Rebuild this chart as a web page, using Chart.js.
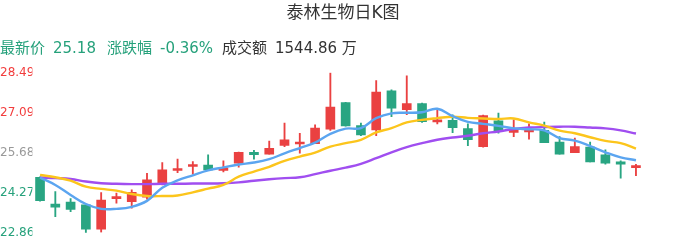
<!DOCTYPE html>
<html>
<head>
<meta charset="utf-8">
<script src="https://cdn.jsdelivr.net/npm/chart.js@4/dist/chart.umd.min.js"></script>
<style>
  html, body { margin: 0; padding: 0; background: #fff; }
  #wrap { position: relative; width: 686px; height: 241px; overflow: hidden;
          font-family: "DejaVu Sans", "Noto Sans CJK SC", sans-serif; }
  #title { position: absolute; top: 0; left: 0; width: 686px; text-align: center;
           font-size: 17px; line-height: 24px; color: #333; }
  .info { position: absolute; top: 38px; font-size: 15px; line-height: 20px; white-space: nowrap; }
  .up { color: #26a17b; }
  .dark { color: #333; }
  #chartBox { position: absolute; left: 0; top: 0; width: 686px; height: 241px; }
</style>
</head>
<body>
<div id="wrap">
  <div id="chartBox"><canvas id="kChart"></canvas></div>
  <div id="title">泰林生物日K图</div>
  <span class="info up" style="left:0px">最新价</span>
  <span class="info up" style="left:53px">25.18</span>
  <span class="info up" style="left:107px">涨跌幅</span>
  <span class="info up" style="left:160px">-0.36%</span>
  <span class="info dark" style="left:222px">成交额</span>
  <span class="info dark" style="left:275px">1544.86 万</span>
</div>
<script>
// 日K数据
const opens  = [24.81, 23.87, 23.94, 23.84, 22.98, 24.06, 23.95, 24.11, 24.58, 25.05,
                25.19, 25.24, 25.05, 25.31, 25.69, 25.62, 25.93, 25.98, 25.99, 26.50,
                27.44, 26.63, 26.48, 27.85, 27.19, 27.40, 26.76, 26.81, 26.52, 25.89,
                26.80, 26.39, 26.41, 26.46, 26.05, 25.68, 25.87, 25.60, 25.35, 25.15];
const closes = [23.99, 23.76, 23.68, 22.98, 24.01, 24.11, 24.28, 24.72, 25.07, 25.12,
                25.26, 25.07, 25.14, 25.69, 25.61, 25.83, 26.13, 26.05, 26.54, 27.28,
                26.62, 26.30, 27.81, 27.24, 27.40, 26.77, 26.83, 26.56, 26.13, 26.98,
                26.42, 26.50, 26.46, 26.03, 25.62, 25.89, 25.35, 25.31, 25.27, 25.18];
const highs  = [24.83, 24.31, 24.06, 23.86, 24.27, 24.25, 24.37, 24.95, 25.33, 25.45,
                25.36, 25.60, 25.39, 25.70, 25.76, 26.08, 26.72, 26.36, 26.66, 28.49,
                27.45, 26.72, 28.21, 27.89, 28.38, 27.42, 27.21, 27.01, 26.69, 27.00,
                27.07, 26.83, 26.69, 26.75, 26.24, 26.19, 26.05, 25.78, 25.39, 25.27];
const lows   = [23.97, 23.42, 23.60, 22.86, 22.88, 23.90, 23.72, 24.04, 24.54, 24.97,
                24.92, 25.07, 25.00, 25.17, 25.45, 25.62, 25.89, 25.66, 25.99, 26.46,
                26.61, 26.27, 26.27, 26.94, 27.01, 26.74, 26.69, 26.38, 25.92, 25.87,
                26.36, 26.24, 26.15, 26.03, 25.62, 25.68, 25.35, 25.27, 24.78, 24.87];

// 均线
const ma5  = [24.80, 24.54, 24.19, 23.87, 23.70, 23.70, 23.77, 23.98, 24.44, 24.70,
              24.88, 25.05, 25.16, 25.26, 25.33, 25.45, 25.65, 25.84, 26.03, 26.34,
              26.52, 26.54, 26.89, 27.06, 27.08, 27.10, 27.22, 26.96, 26.76, 26.69,
              26.62, 26.53, 26.50, 26.46, 26.19, 26.10, 25.91, 25.69, 25.51, 25.41];
const ma10 = [24.89, 24.81, 24.69, 24.48, 24.40, 24.34, 24.22, 24.15, 24.15, 24.17,
              24.28, 24.41, 24.54, 24.83, 25.01, 25.18, 25.39, 25.54, 25.68, 25.89,
              26.01, 26.13, 26.39, 26.54, 26.74, 26.83, 26.89, 26.94, 26.90, 26.88,
              26.86, 26.88, 26.74, 26.63, 26.45, 26.36, 26.22, 26.09, 26.01, 25.82];
const ma20 = [24.80, 24.78, 24.75, 24.66, 24.60, 24.58, 24.57, 24.57, 24.58, 24.58,
              24.59, 24.59, 24.60, 24.63, 24.69, 24.74, 24.78, 24.81, 24.92, 25.04,
              25.15, 25.28, 25.48, 25.69, 25.87, 26.01, 26.13, 26.21, 26.27, 26.36,
              26.42, 26.51, 26.56, 26.58, 26.59, 26.59, 26.56, 26.53, 26.46, 26.35];

const yTicks = [22.86, 24.27, 25.68, 27.09, 28.49];
const midPrice = 25.68;

const labels = opens.map((_, i) => String(i + 1));

const RED = '#ea4141';
const GREEN = '#29a582';
const candleColors = opens.map((o, i) => closes[i] >= o ? RED : GREEN);

function lineSet(data, color) {
  return {
    type: 'line',
    data: data,
    borderColor: color,
    borderWidth: 2.4,
    pointRadius: 0,
    tension: 0.4,
    fill: false,
    order: 0
  };
}

new Chart(document.getElementById('kChart'), {
  data: {
    labels: labels,
    datasets: [
      lineSet(ma5, '#5ba5f0'),
      lineSet(ma10, '#fcc51c'),
      lineSet(ma20, '#a04ef0'),
      {
        type: 'bar',
        data: opens.map((o, i) => [o, closes[i]]),
        backgroundColor: candleColors,
        barThickness: 9,
        minBarLength: 2,
        grouped: false,
        order: 1
      },
      {
        type: 'bar',
        data: lows.map((l, i) => [l, highs[i]]),
        backgroundColor: candleColors,
        barThickness: 1.2,
        grouped: false,
        order: 2
      }
    ]
  },
  options: {
    responsive: true,
    maintainAspectRatio: false,
    animation: false,
    layout: { padding: { top: 72.7, bottom: 8.3, right: 42.4, left: 0 } },
    plugins: { legend: { display: false }, tooltip: { enabled: false } },
    scales: {
      x: {
        display: false,
        offset: true
      },
      y: {
        min: 22.86,
        max: 28.49,
        grid: { display: false },
        border: { display: false },
        afterBuildTicks: scale => { scale.ticks = yTicks.map(v => ({ value: v })); },
        afterFit: scale => { scale.width = 32.4; },
        ticks: {
          crossAlign: 'far',
          padding: 0,
          font: { size: 12, family: '"DejaVu Sans", sans-serif' },
          color: ctx => ctx.tick.value > midPrice + 0.001 ? '#f23d3d'
                      : (ctx.tick.value < midPrice - 0.001 ? '#26a17b' : '#999'),
          callback: value => Number(value).toFixed(2)
        }
      }
    }
  }
});
</script>
</body>
</html>
